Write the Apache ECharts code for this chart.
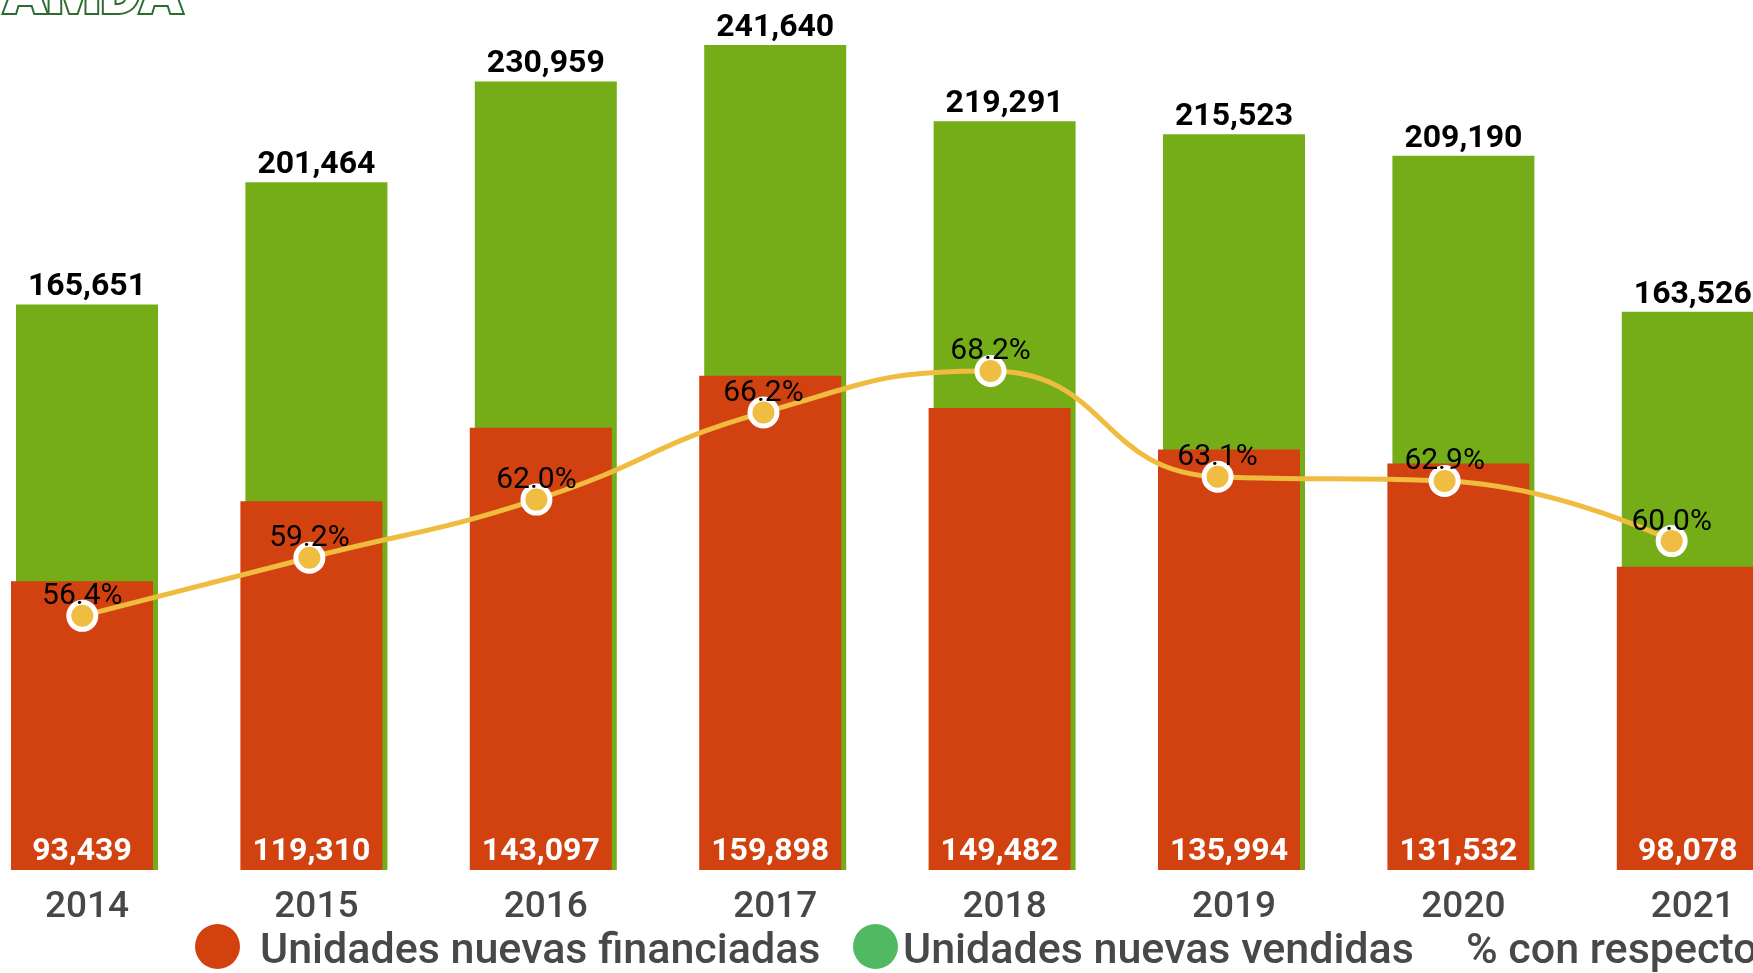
<!DOCTYPE html>
<html>
<head>
<meta charset="utf-8">
<script src="https://cdn.jsdelivr.net/npm/echarts@6/dist/echarts.min.js"></script>
<style>
  html, body { margin: 0; padding: 0; background: #fff; }
  #chart { width: 1753px; height: 973px; }
</style>
</head>
<body>
<div id="chart"></div>
<script>
const years = ['2014', '2015', '2016', '2017', '2018', '2019', '2020', '2021'];
const vendidas = [165651, 201464, 230959, 241640, 219291, 215523, 209190, 163526];
const financiadas = [93439, 119310, 143097, 159898, 149482, 135994, 131532, 98078];
const porcentaje = [56.4, 59.2, 62.0, 66.2, 68.2, 63.1, 62.9, 60.0];

const nombres = ['Unidades nuevas financiadas', 'Unidades nuevas vendidas', '% con respecto'];

const font = 'Roboto, "Noto Sans", sans-serif';
const fmt = (v) => v.toLocaleString('en-US');

const chart = echarts.init(document.getElementById('chart'));

// texto de la leyenda un poco mas abajo que el centro del icono
function legendStyle(padLeft) {
  return {
    color: '#484848', fontSize: 43, fontWeight: 500, fontFamily: font,
    rich: {
      s: { width: 0, lineHeight: 54 },
      t: {
        color: '#484848', fontSize: 43, fontWeight: 500, fontFamily: font,
        verticalAlign: 'bottom', padding: [0, 0, 0, padLeft],
      },
    },
  };
}
const legendFmt = (name) => '{s| }{t|' + name + '}';

const option = {
  backgroundColor: '#fff',
  animation: false,
  // tres grids: barras verdes, barras rojas (corridas 5px), y la linea
  grid: [
    { left: -27.7, right: -54.5, top: 40, bottom: 103, outerBoundsMode: 'none', containLabel: false },
    { left: -32.7, right: -49.5, top: 40, bottom: 103, outerBoundsMode: 'none', containLabel: false },
    { left: -31.2, right: -32.2, top: 40, bottom: 103, outerBoundsMode: 'none', containLabel: false },
  ],
  xAxis: [
    {
      type: 'category', gridIndex: 0, data: years,
      axisLine: { show: false }, axisTick: { show: false },
      axisLabel: { color: '#474747', fontSize: 37, fontWeight: 500, fontFamily: font, margin: 19 },
    },
    { type: 'category', gridIndex: 1, data: years, show: false },
    { type: 'category', gridIndex: 2, data: years, show: false },
  ],
  yAxis: [
    { type: 'value', gridIndex: 0, min: 0, max: 243100, show: false },
    { type: 'value', gridIndex: 1, min: 0, max: 268500, show: false },
    { type: 'value', gridIndex: 2, min: 44.15, max: 84.15, show: false },
  ],
  legend: [
    {
      left: 195, top: 924, padding: 0, itemWidth: 45, itemHeight: 45,
      icon: 'circle', formatter: legendFmt, textStyle: legendStyle(15),
      data: [{ name: nombres[0], itemStyle: { color: '#d3410f' } }],
    },
    {
      left: 853, top: 924, padding: 0, itemWidth: 45, itemHeight: 45,
      icon: 'circle', formatter: legendFmt, textStyle: legendStyle(0),
      data: [{ name: nombres[1], itemStyle: { color: '#52b963' } }],
    },
    {
      left: 1461, top: 924, padding: 0, itemWidth: 0, itemHeight: 45,
      icon: 'none', formatter: legendFmt, textStyle: legendStyle(0),
      data: [{ name: nombres[2] }],
    },
  ],
  graphic: [
    {
      type: 'text', left: 2, top: -36, silent: true,
      style: {
        text: 'AMDA', fontSize: 62, fontWeight: 900, fontFamily: font,
        fill: '#fff', stroke: '#2d6b30', lineWidth: 4,
      },
    },
  ],
  series: [
    {
      name: nombres[1], type: 'bar', xAxisIndex: 0, yAxisIndex: 0,
      data: vendidas, barWidth: 142, z: 2,
      itemStyle: { color: '#74ad17' },
      label: {
        show: true, position: 'top', distance: 1,
        color: '#000', fontSize: 32, fontWeight: 'bold', fontFamily: font,
        formatter: (p) => fmt(p.value),
      },
    },
    {
      name: nombres[0], type: 'bar', xAxisIndex: 1, yAxisIndex: 1,
      data: financiadas, barWidth: 142, z: 3,
      itemStyle: { color: '#d24110' },
      label: {
        show: true, position: 'insideBottom', distance: 2,
        color: '#fff', fontSize: 32, fontWeight: 'bold', fontFamily: font,
        formatter: (p) => fmt(p.value),
      },
    },
    {
      name: nombres[2], type: 'line', xAxisIndex: 2, yAxisIndex: 2,
      data: porcentaje, smooth: 0.5, z: 5,
      symbol: 'circle', symbolSize: 27,
      lineStyle: { color: '#efbc40', width: 5 },
      itemStyle: { color: '#efbd42', borderColor: '#fff', borderWidth: 5 },
      label: {
        show: true, position: 'top', distance: 0, offset: [0, 12],
        color: '#000', fontSize: 30, fontFamily: font,
        formatter: (p) => p.value.toFixed(1) + '%',
      },
    },
  ],
};

chart.setOption(option);
</script>
</body>
</html>
